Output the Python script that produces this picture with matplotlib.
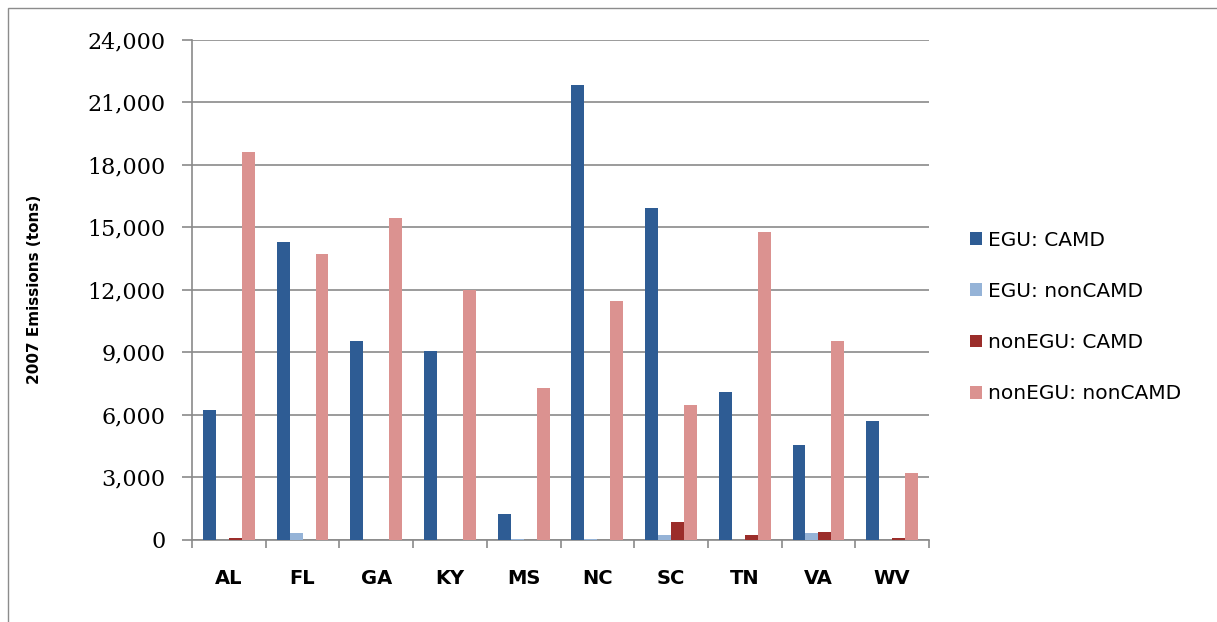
import numpy as np
import matplotlib
matplotlib.use("Agg")
import matplotlib.pyplot as plt
from matplotlib.patches import Rectangle
from matplotlib.ticker import FuncFormatter, FixedLocator

states = ["AL", "FL", "GA", "KY", "MS", "NC", "SC", "TN", "VA", "WV"]
series_names = ["EGU: CAMD", "EGU: nonCAMD", "nonEGU: CAMD", "nonEGU: nonCAMD"]
egu_camd = [6250, 14300, 9540, 9080, 1230, 21800, 15900, 7080, 4540, 5690]
egu_noncamd = [0, 320, 0, 0, 50, 60, 240, 0, 320, 0]
nonegu_camd = [80, 0, 0, 0, 0, 0, 850, 240, 400, 90]
nonegu_noncamd = [18600, 13700, 15450, 12000, 7300, 11460, 6460, 14750, 9540, 3230]
colors = ["#2E5C94", "#95B3D7", "#9B2D2A", "#DB9290"]

fig = plt.figure(figsize=(12.17, 6.22), dpi=100)
# outer chart border
fig.patches.append(Rectangle((8 / 1217, -0.1), 1.2, 1.1 - 8 / 622,
                             transform=fig.transFigure, fill=False,
                             edgecolor="#8c8c8c", linewidth=1.0))

ax = fig.add_axes([192 / 1217, 1 - 540 / 622, 737 / 1217, 500.5 / 622])

x = np.arange(len(states))
w = 0.176
data = [egu_camd, egu_noncamd, nonegu_camd, nonegu_noncamd]
for k, (vals, name, c) in enumerate(zip(data, series_names, colors)):
    ax.bar(x + (k - 1.5) * w, vals, width=w, color=c, label=name, zorder=3)

ax.set_xlim(-0.5, len(states) - 0.5)
ax.set_ylim(0, 24000)
ax.set_yticks(np.arange(0, 24001, 3000))
ax.yaxis.set_major_formatter(FuncFormatter(lambda v, p: f"{int(v):,}"))
ax.grid(axis="y", color="#8a8a8a", linewidth=1.2, zorder=0)

ax.set_xticks(x)
ax.set_xticklabels(states, fontsize=14, fontweight="bold")
ax.xaxis.set_minor_locator(FixedLocator(np.arange(-0.5, len(states), 1.0)))
ax.tick_params(axis="x", which="major", length=0, pad=21)
ax.tick_params(axis="x", which="minor", length=6, color="#8a8a8a", width=1.2)
ax.tick_params(axis="y", length=7, color="#8a8a8a", width=1.2, pad=12,
               labelsize=16)
for lab in ax.get_yticklabels():
    lab.set_family("DejaVu Serif")

for s in ["top", "right"]:
    ax.spines[s].set_visible(False)
for s in ["left", "bottom"]:
    ax.spines[s].set_color("#8a8a8a")
    ax.spines[s].set_linewidth(1.2)

ax.set_ylabel("2007 Emissions (tons)", fontsize=11, fontweight="bold")
ax.yaxis.set_label_coords(-0.203, 0.5)

fig.legend(loc="center left", bbox_to_anchor=(952 / 1217, 1 - 317 / 622),
           frameon=False, fontsize=14.5, handlelength=0.6, handleheight=0.6,
           handletextpad=0.3, labelspacing=1.6)

fig.savefig("out.png", dpi=100)
